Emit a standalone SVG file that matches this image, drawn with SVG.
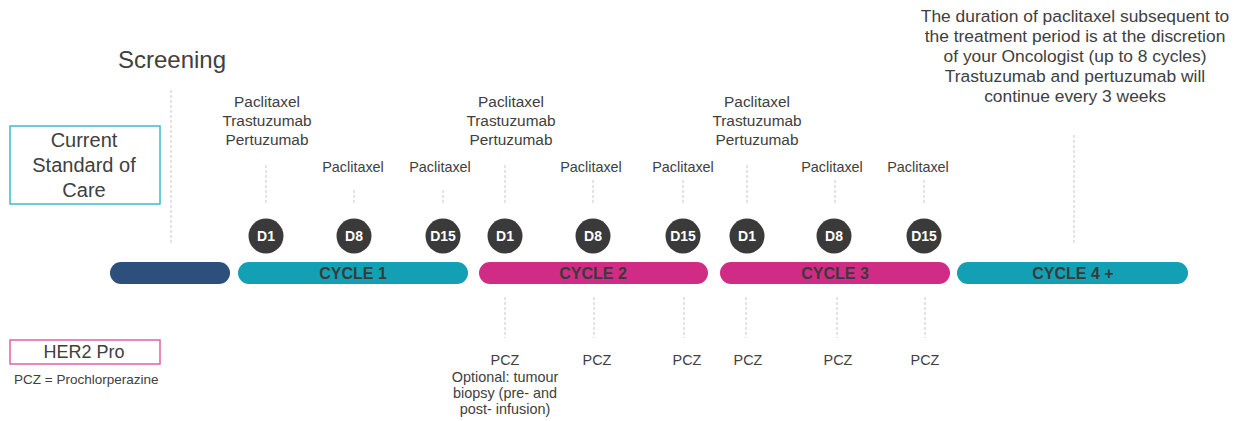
<svg xmlns="http://www.w3.org/2000/svg" width="1251" height="421" viewBox="0 0 1251 421">
<style>
text{font-family:"Liberation Sans",Arial,sans-serif;fill:#404040;text-anchor:middle}
.t{font-size:15.4px}
.s{font-size:14.4px}
.p{font-size:14.4px}
.cyc{font-size:16px;font-weight:bold;fill:#3a3a3a}
.d{font-size:14px;font-weight:bold;fill:#fff}
.n{font-size:17.4px}
.dash{stroke:#c8c8c8;stroke-width:1;stroke-dasharray:3 2;fill:none}
.dot{fill:#3a3a3a}
</style>
<rect width="1251" height="421" fill="#fff"/>
<g id="connectors">
<line class="dash" x1="171" y1="90" x2="171" y2="245"/>
<line class="dash" x1="1074" y1="135" x2="1074" y2="245"/>
<line class="dash" x1="266" y1="165" x2="266" y2="203"/>
<line class="dash" x1="354" y1="190" x2="354" y2="205"/>
<line class="dash" x1="443" y1="190" x2="443" y2="205"/>
<line class="dash" x1="505" y1="165" x2="505" y2="203"/>
<line class="dash" x1="593" y1="180" x2="593" y2="205"/>
<line class="dash" x1="683" y1="180" x2="683" y2="205"/>
<line class="dash" x1="747" y1="165" x2="747" y2="203"/>
<line class="dash" x1="835" y1="180" x2="835" y2="205"/>
<line class="dash" x1="924" y1="180" x2="924" y2="205"/>
<line class="dash" x1="505" y1="297" x2="505" y2="338"/>
<line class="dash" x1="594" y1="297" x2="594" y2="338"/>
<line class="dash" x1="684" y1="297" x2="684" y2="338"/>
<line class="dash" x1="746" y1="297" x2="746" y2="338"/>
<line class="dash" x1="837" y1="297" x2="837" y2="338"/>
<line class="dash" x1="925" y1="297" x2="925" y2="338"/>
</g>
<g id="screening"><text x="172" y="68" style="font-size:24px">Screening</text></g>
<g id="soc">
<rect x="10" y="126" width="150" height="78" fill="none" stroke="#3bbccc" stroke-width="1.5"/>
<text x="84" y="147" style="font-size:20px">Current</text>
<text x="84" y="172" style="font-size:20px">Standard of</text>
<text x="84" y="197" style="font-size:20px">Care</text>
</g>
<g id="her2">
<rect x="10" y="340" width="150" height="24" fill="none" stroke="#e060a8" stroke-width="1.5"/>
<text x="84" y="358" style="font-size:18px">HER2 Pro</text>
<text x="14" y="384" style="font-size:13.5px;text-anchor:start">PCZ = Prochlorperazine</text>
</g>
<g id="note">
<text class="n" x="1075" y="22">The duration of paclitaxel subsequent to</text>
<text class="n" x="1075" y="42">the treatment period is at the discretion</text>
<text class="n" x="1075" y="62">of your Oncologist (up to 8 cycles)</text>
<text class="n" x="1075" y="82">Trastuzumab and pertuzumab will</text>
<text class="n" x="1075" y="102">continue every 3 weeks</text>
</g>
<g id="bar-screening"><rect x="110" y="262" width="120" height="22" rx="11" fill="#2d4f7c"/></g>
<g id="cycle1">
<rect x="238" y="262" width="230" height="22" rx="11" fill="#14a0b4"/>
<text class="cyc" x="353" y="279">CYCLE 1</text>
<text class="t" x="267" y="107">Paclitaxel</text>
<text class="t" x="267" y="126">Trastuzumab</text>
<text class="t" x="267" y="145">Pertuzumab</text>
<text class="s" x="353" y="172">Paclitaxel</text>
<text class="s" x="440" y="172">Paclitaxel</text>
<circle class="dot" cx="266" cy="236" r="17.5"/><text class="d" x="266" y="241">D1</text>
<circle class="dot" cx="354" cy="236" r="17.5"/><text class="d" x="354" y="241">D8</text>
<circle class="dot" cx="443" cy="236" r="17.5"/><text class="d" x="443" y="241">D15</text>
</g>
<g id="cycle2">
<rect x="479" y="262" width="229" height="22" rx="11" fill="#d02c85"/>
<text class="cyc" x="593" y="279">CYCLE 2</text>
<text class="t" x="511" y="107">Paclitaxel</text>
<text class="t" x="511" y="126">Trastuzumab</text>
<text class="t" x="511" y="145">Pertuzumab</text>
<text class="s" x="591" y="172">Paclitaxel</text>
<text class="s" x="683" y="172">Paclitaxel</text>
<circle class="dot" cx="505" cy="236" r="17.5"/><text class="d" x="505" y="241">D1</text>
<circle class="dot" cx="593" cy="236" r="17.5"/><text class="d" x="593" y="241">D8</text>
<circle class="dot" cx="683" cy="236" r="17.5"/><text class="d" x="683" y="241">D15</text>
<text class="p" x="505" y="365">PCZ</text>
<text class="p" x="505" y="382">Optional: tumour</text>
<text class="p" x="505" y="398">biopsy (pre- and</text>
<text class="p" x="505" y="414">post- infusion)</text>
<text class="p" x="597" y="365">PCZ</text>
<text class="p" x="687" y="365">PCZ</text>
</g>
<g id="cycle3">
<rect x="720" y="262" width="230" height="22" rx="11" fill="#d02c85"/>
<text class="cyc" x="835" y="279">CYCLE 3</text>
<text class="t" x="757" y="107">Paclitaxel</text>
<text class="t" x="757" y="126">Trastuzumab</text>
<text class="t" x="757" y="145">Pertuzumab</text>
<text class="s" x="832" y="172">Paclitaxel</text>
<text class="s" x="918" y="172">Paclitaxel</text>
<circle class="dot" cx="747" cy="236" r="17.5"/><text class="d" x="747" y="241">D1</text>
<circle class="dot" cx="834" cy="236" r="17.5"/><text class="d" x="834" y="241">D8</text>
<circle class="dot" cx="924" cy="236" r="17.5"/><text class="d" x="924" y="241">D15</text>
<text class="p" x="748" y="365">PCZ</text>
<text class="p" x="838" y="365">PCZ</text>
<text class="p" x="925" y="365">PCZ</text>
</g>
<g id="cycle4">
<rect x="957" y="262" width="231" height="22" rx="11" fill="#14a0b4"/>
<text class="cyc" x="1073" y="279">CYCLE 4 +</text>
</g>
</svg>
